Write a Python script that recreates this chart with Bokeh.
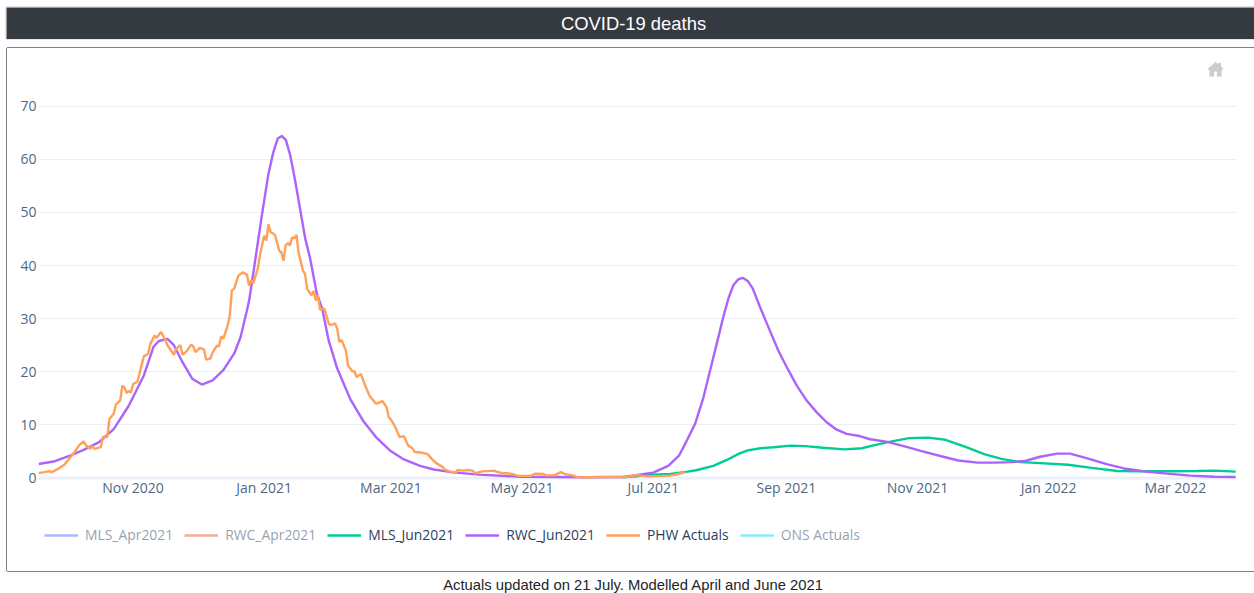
import pandas as pd
from bokeh.plotting import figure
from bokeh.embed import file_html
from bokeh.layouts import column, row
from bokeh.resources import INLINE
from bokeh.models import (FixedTicker, Label, Legend, LegendItem,
                          PolyAnnotation, Range1d, Span)

START = "2020-09-18"
X_END_DAY = 557.4
Y_MIN = -17.6
Y_MAX = 78.6

tick_dates = ["2020-11-01", "2021-01-01", "2021-03-01", "2021-05-01", "2021-07-01",
              "2021-09-01", "2021-11-01", "2022-01-01", "2022-03-01"]
tick_labels = ["Nov 2020", "Jan 2021", "Mar 2021", "May 2021", "Jul 2021",
               "Sep 2021", "Nov 2021", "Jan 2022", "Mar 2022"]
y_ticks = [0, 10, 20, 30, 40, 50, 60, 70]

rwc_days = [0, 7, 14, 21, 28, 35, 42, 49, 53.5, 56, 60, 63, 67, 71.5, 76, 81, 86, 91, 94, 97,
            98, 100.8, 103.9, 107, 109.3, 111.3, 113.2, 115.1, 117.1, 119.4, 121.7, 124, 126.4,
            129.5, 132, 135, 139,
            145, 151, 157, 163.5, 170, 177.5, 184, 193, 205, 224, 240, 255, 272, 278, 286, 293,
            298, 301.6, 305.5, 309.4, 312.5, 315.6, 318.6, 321, 323.3, 325.6, 327.6, 330, 332.3,
            335.7, 339.6, 344.2, 348.9, 352.8, 357.4, 362, 366.7, 371.4, 376, 382,
            387, 395, 403, 410.5, 420, 428, 437, 445, 453, 459, 466, 474, 480, 488,
            497, 505, 514, 525, 536, 547, 557]
rwc_vals = [2.64, 3.1, 4.1, 5.3, 6.7, 9.2, 13.6, 19.3, 24.7, 25.8, 26.2, 25, 21.8, 18.7, 17.6,
            18.4, 20.3, 23.4, 26.5, 31.6, 33.4, 40.9, 49.4, 57.3, 61.4, 63.9, 64.4, 63.6, 60.8,
            56.0, 50.7, 45.3, 41.3, 34.7, 31.9, 25.9, 20.6, 14.9, 10.8, 7.7, 5.2, 3.5, 2.3, 1.6, 1.07,
            0.63, 0.25, 0.19, 0.12, 0.2, 0.55, 1.0, 2.3, 4.2, 7.0, 10.2, 15.2, 20.3, 25.3, 30.3,
            33.8, 36.3, 37.4, 37.7, 37.1, 35.7, 32.2, 28.4, 24.0, 20.3, 17.4, 14.6, 12.4, 10.5,
            9.1, 8.3, 7.9, 7.3, 6.8, 5.95,
            5.1, 4.1, 3.3, 2.9, 2.9, 3.0, 3.2, 4.0, 4.6, 4.6, 3.7, 2.6, 1.8, 1.27, 0.82, 0.44,
            0.25, 0.2]

mls_days = [272, 278, 286, 294, 302, 306, 314, 320, 326, 330, 336, 342, 350, 357, 365, 375, 383,
            389, 397, 405, 414, 422, 431, 440, 448, 457, 466, 479, 490, 502, 514, 527, 539, 547,
            557]
mls_vals = [0.15, 0.3, 0.63, 0.76, 1.2, 1.46, 2.3, 3.35, 4.6, 5.2, 5.6, 5.8, 6.1, 6.0, 5.7, 5.4,
            5.6, 6.2, 6.9, 7.5, 7.6, 7.2, 5.9, 4.5, 3.6, 3.0, 2.8, 2.5, 1.9, 1.33, 1.27, 1.27,
            1.33, 1.4, 1.2]

phw_days = [0, 2, 5, 6, 9, 12, 14, 17, 19, 21, 22, 24, 25, 26, 29, 30, 32, 33, 35, 36, 38, 39, 40,
            41, 42, 43, 44, 46, 49, 51, 52, 54, 55, 57, 59, 60, 63, 64, 66, 67, 69, 71, 72, 73,
            75, 77, 78, 80, 81, 83, 84, 85, 86, 88, 89, 90, 91, 93, 95, 97, 98, 99, 100, 102, 103,
            105, 106, 107, 108, 110, 112, 113, 114, 115, 116, 117, 118, 119, 120, 121, 123, 124,
            125, 127, 128, 129, 130, 131, 133, 135, 136, 138, 139, 140, 141, 143, 144, 146, 147,
            148, 150, 152, 154, 157, 158, 160, 162, 163, 164, 166, 168, 170, 172, 174, 175, 178,
            181, 183, 185, 188, 189, 191, 194, 195, 198, 199, 202, 203, 205, 207, 209, 212, 213,
            216, 218, 221, 223, 229, 231, 235, 236, 240, 243, 245, 248, 250, 253, 260, 271, 274,
            278, 283, 289, 294, 298, 301]
phw_vals = [0.94, 1.07, 1.3, 1.07, 1.7, 2.5, 3.5, 5.0, 6.2, 6.9, 6.2, 5.5, 6.0, 5.5, 5.8, 7.8, 7.7,
            11.1, 12.1, 13.8, 14.6, 17.4, 17.0, 16.0, 16.4, 16.1, 17.7, 18.1, 22.9, 23.4, 25.2,
            26.8, 26.4, 27.5, 26.0, 25.0, 23.2, 24.3, 25.0, 23.2, 23.9, 25.1, 24.8, 23.7, 24.5,
            24.2, 22.3, 22.5, 23.6, 24.9, 24.8, 26.7, 26.2, 28.7, 30.6, 35.4, 35.6, 38.1, 38.7,
            38.3, 36.2, 37.2, 36.7, 39.4, 41.9, 45.6, 44.7, 47.8, 46.3, 45.8, 42.8, 42.5, 40.9,
            43.8, 44.2, 43.8, 45.3, 45.1, 45.8, 42.5, 39.1, 38.4, 35.6, 34.4, 35.2, 33.4, 34.4,
            31.7, 31.9, 29.1, 28.8, 29.1, 28.1, 25.6, 26.0, 24.0, 21.2, 20.1, 20.1, 19.0, 19.6,
            17.4, 15.5, 14.0, 14.1, 14.5, 13.3, 11.4, 11.0, 9.6, 7.7, 7.9, 6.1, 5.6, 4.9, 4.8,
            4.5, 3.6, 2.8, 2.1, 1.6, 1.3, 0.9, 1.5, 1.4, 1.5, 1.4, 0.9, 1.1, 1.3, 1.3, 1.4, 1.2,
            0.9, 0.9, 0.7, 0.4, 0.4, 0.8, 0.75, 0.5, 0.5, 1.1, 0.7, 0.55, 0.25, 0.1, 0.2, 0.25,
            0.2, 0.55, 0.3, 0.35, 0.45, 0.8, 1.1]

legend_names = ["MLS_Apr2021", "RWC_Apr2021", "MLS_Jun2021", "RWC_Jun2021", "PHW Actuals", "ONS Actuals"]
legend_colors = ["#636efa", "#EF553B", "#00cc96", "#ab63fa", "#FFA15A", "#19d3f3"]
TEXT = "#2a3f5f"
TICK = "#506784"
GRID = "#EBF0F8"
TICK_FONT = "Open Sans"


def ms(day_offset):
    return (pd.Timestamp(START) + pd.Timedelta(days=day_offset)).value / 1e6


def strip(text, size, color, bg, height, margin):
    f = figure(width=1248, height=height, output_backend="svg", toolbar_location=None,
               x_range=Range1d(0, 1), y_range=Range1d(0, 1), min_border=0,
               x_axis_location=None, y_axis_location=None,
               outline_line_color=None, background_fill_color=bg, border_fill_color=bg,
               margin=margin)
    f.grid.visible = False
    f.add_layout(Label(x=627, y=height / 2, x_units="canvas", y_units="canvas", text=text,
                       text_font="Liberation Sans", text_font_size=size, text_color=color,
                       text_align="center", text_baseline="middle"))
    return f


head = strip("COVID-19 deaths", "18.4px", "white", "#343a40", 32, (7, 0, 0, 6))
head.styles = {"box-shadow": "0 0 1px #666666"}
foot = strip("Actuals updated on 21 July. Modelled April and June 2021", "14.8px", "#212529", "white",
             20, (3, 0, 0, 6))

p = figure(width=1247, height=523, output_backend="svg", toolbar_location=None,
           x_axis_type="datetime",
           x_range=Range1d(ms(0), ms(X_END_DAY)), y_range=Range1d(Y_MIN, Y_MAX),
           min_border_left=31, min_border_right=18, min_border_top=12, min_border_bottom=0,
           outline_line_color=None, background_fill_color="white", border_fill_color="white",
           margin=(9, 0, 0, 7))
p.styles = {"box-shadow": "-1px 0 0 #808080, 0 -1px 0 #808080, 0 1px 0 #808080"}

tick_ms = [pd.Timestamp(d).value / 1e6 for d in tick_dates]
p.xaxis.ticker = FixedTicker(ticks=tick_ms)
p.xaxis.major_label_overrides = dict(zip(tick_ms, tick_labels))
p.xaxis.fixed_location = 0
p.yaxis.ticker = FixedTicker(ticks=y_ticks)
for ax in (p.xaxis[0], p.yaxis[0]):
    ax.axis_line_color = None
    ax.major_tick_line_color = None
    ax.minor_tick_line_color = None
    ax.major_tick_in = 0
    ax.major_tick_out = 0
    ax.major_label_text_font = TICK_FONT
    ax.major_label_text_font_size = "14px"
    ax.major_label_text_color = TICK
p.xaxis.major_label_standoff = 0
p.yaxis.major_label_standoff = 2
p.xgrid.visible = False
p.ygrid.grid_line_color = GRID
p.ygrid.grid_line_width = 1
p.add_layout(Span(location=0, dimension="width", line_color=GRID, line_width=3, level="underlay"))

p.add_layout(PolyAnnotation(xs=[1200, 1208, 1211, 1211, 1213.5, 1213.5, 1216, 1214, 1214, 1209.5, 1209.5,
                                1206.5, 1206.5, 1202, 1202],
                            ys=[20.5, 13.5, 16, 14.5, 14.5, 18, 20.5, 21.5, 28, 28, 23, 23, 28, 28, 21.5],
                            xs_units="canvas", ys_units="canvas", fill_color="#cccccc", fill_alpha=1,
                            line_color="#cccccc", line_width=0.5, level="overlay"))

nothing = [float("nan")]
r_mls_apr = p.line(nothing, nothing, color=legend_colors[0], line_width=2.4, visible=False)
r_rwc_apr = p.line(nothing, nothing, color=legend_colors[1], line_width=2.4, visible=False)
r_mls_jun = p.line([ms(d) for d in mls_days], mls_vals, color=legend_colors[2], line_width=2.4)
r_rwc_jun = p.line([ms(d) for d in rwc_days], rwc_vals, color=legend_colors[3], line_width=2.4)
r_phw = p.line([ms(d) for d in phw_days], phw_vals, color=legend_colors[4], line_width=2.4)
r_ons = p.line(nothing, nothing, color=legend_colors[5], line_width=2.4, visible=False)
renderers = [r_mls_apr, r_rwc_apr, r_mls_jun, r_rwc_jun, r_phw, r_ons]

legend = Legend(items=[LegendItem(label=n, renderers=[r]) for n, r in zip(legend_names, renderers)],
                orientation="horizontal", location=(6, 27), click_policy="hide",
                background_fill_alpha=0, border_line_color=None, padding=0, margin=0,
                glyph_width=34, glyph_height=16, label_standoff=7, spacing=11,
                label_text_font=TICK_FONT, label_text_font_size="13.9px", label_text_color=TEXT,
                inactive_fill_color="white", inactive_fill_alpha=0.5)
p.add_layout(legend, "center")

page = column(row(head), p, row(foot), spacing=0)
open("out.html", "w").write(file_html(page, INLINE))
